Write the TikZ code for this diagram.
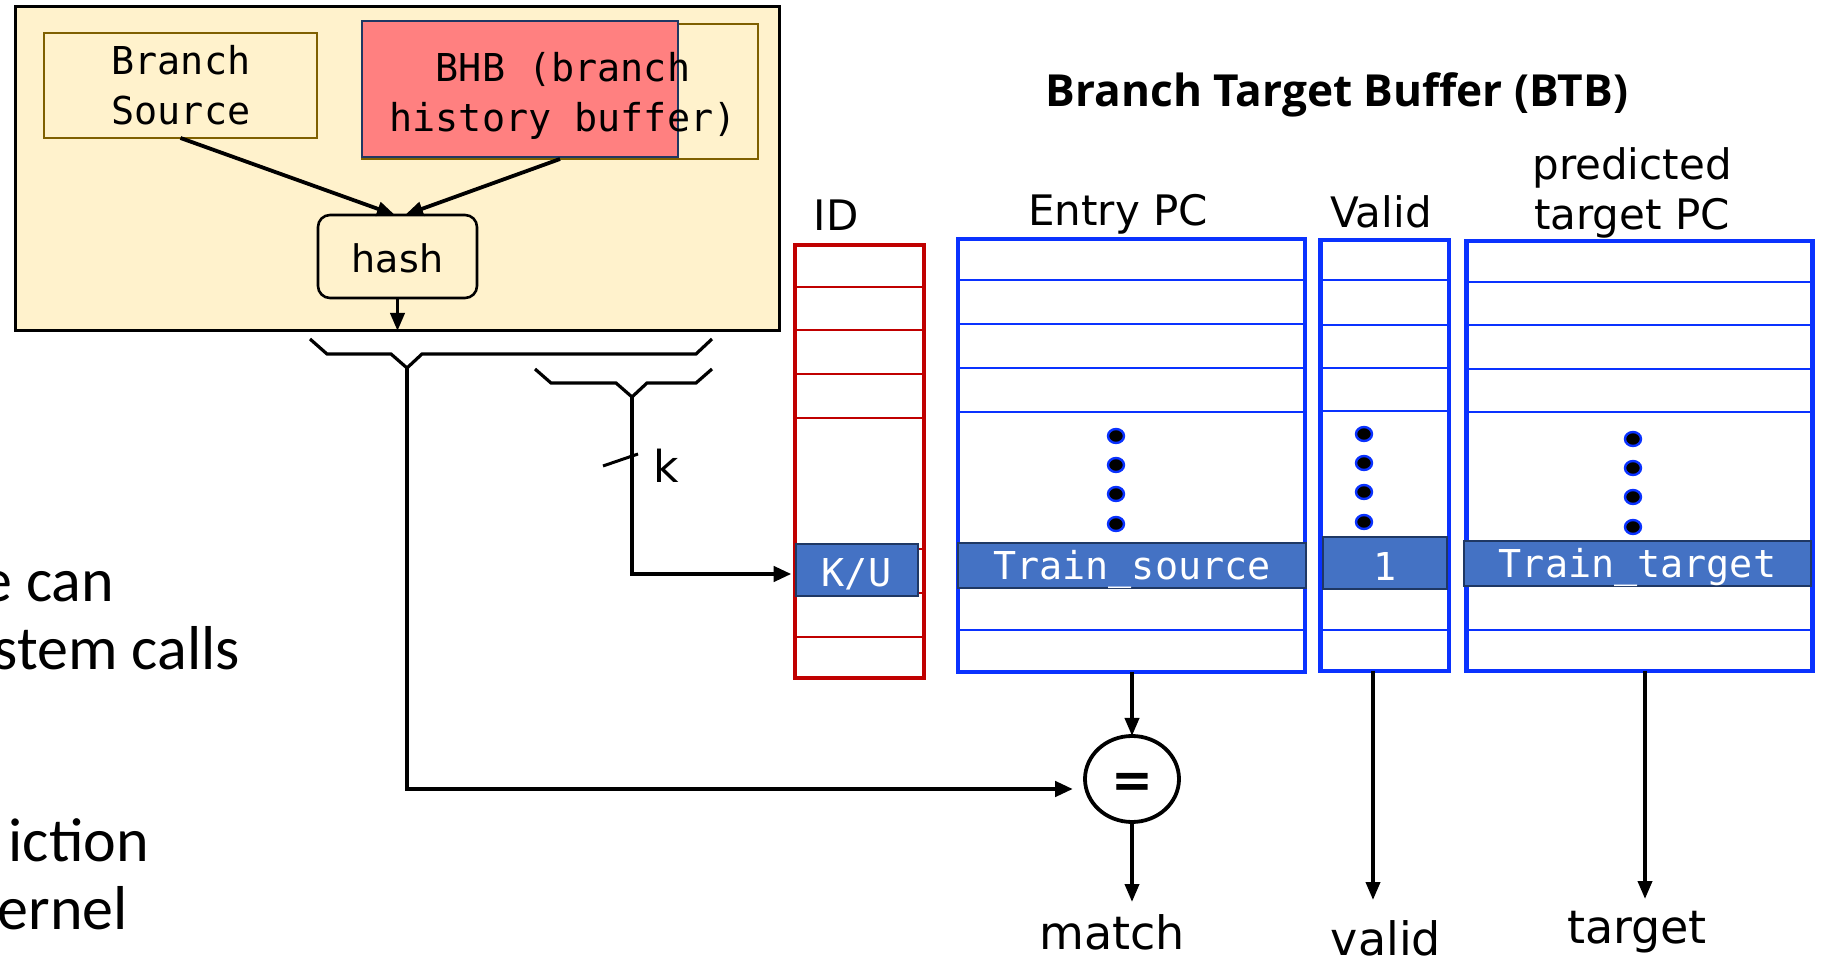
\documentclass[tikz,border=0pt]{standalone}
\usepackage{fontspec}
\setmainfont{DejaVu Sans}
\newfontfamily\monof{DejaVu Sans Mono}
\newfontfamily\titlef{Open Sans}
\newfontfamily\calf{Carlito}
\usetikzlibrary{arrows.meta,fit,shapes.geometric}
\definecolor{boxyellow}{RGB}{255,242,204}
\definecolor{boxbrown}{RGB}{127,96,0}
\definecolor{bhbred}{RGB}{255,128,128}
\definecolor{navy}{RGB}{31,56,100}
\definecolor{colblue}{RGB}{10,50,255}
\definecolor{cellblue}{RGB}{68,114,196}
\definecolor{idred}{RGB}{192,0,0}
\newcommand{\shiftdown}[2]{\raisebox{-#1}[\height][\depth]{#2}}
\tikzset{
  every node/.style={inner sep=0pt,outer sep=0pt},
  conn/.style={line width=1.9pt,-{Triangle[length=9pt,width=7pt]}},
  thickconn/.style={line width=2.3pt,-{Triangle[length=9pt,width=7.5pt]}},
  monotext/.style={font=\monof\fontsize{19.2}{25}\selectfont},
  labeltext/.style={font=\fontsize{21}{25}\selectfont},
  outlabel/.style={font=\fontsize{23}{27}\selectfont},
  sidetext/.style={font=\calf\fontsize{31}{37}\selectfont},
  colframe/.style={draw=colblue,line width=2.4pt},
  rowline/.style={colblue,line width=1.2pt},
  idrow/.style={idred,line width=1.2pt},
  cellbox/.style={fill=cellblue,draw=navy,line width=1pt,text=white,monotext},
  vdot/.style={fill=black,draw=colblue,line width=1.2pt},
  bracket/.style={line width=1.6pt,line join=miter},
}
\begin{document}
\begin{tikzpicture}[x=0.5pt,y=-0.5pt]
\useasboundingbox (0,0) rectangle (1821,956);
% cut-off side text
\node[sidetext,anchor=base east] (s1) at (114,602) {e can};
\node[sidetext,anchor=base east] (s2) at (240,669) {stem calls};
\node[sidetext,anchor=base east] (s3) at (149,861) {iction};
\node[sidetext,anchor=base east] (s4) at (128,929) {ernel};
% hash unit
\node[fit={(15,7)(779,331)},draw=black,line width=1.5pt,fill=boxyellow] (unit) {};
\node[fit={(44,33)(317,138)},draw=boxbrown,line width=1.3pt,fill=boxyellow] (src) {};
\node[monotext,align=center] (srctxt) at (181,85) {Branch\\Source};
\node[fit={(362,24)(758,159)},draw=boxbrown,line width=1.3pt,fill=boxyellow] (bhbframe) {};
\node[fit={(362,21)(678,157)},draw=navy,line width=1pt,fill=bhbred] (bhb) {};
\node[monotext,align=center] (bhbtxt) at (563,96) {BHB (branch\\history buffer)};
\node[draw=black,line width=1.3pt,rounded corners=6pt,fill=boxyellow,minimum width=79.5pt,minimum height=41.5pt,font=\fontsize{19}{22}\selectfont] (hash) at (397.5,256.5) {\shiftdown{1pt}{hash}};
\draw[conn] (src.south) -- ([xshift=-1.25pt]hash.north);
\draw[conn] (bhbframe.south) -- ([xshift=3.75pt]hash.north);
\draw[conn] (hash.south) -- (hash.south |- unit.south);
% brackets
\coordinate (v1) at (407,368);
\coordinate (v2) at (632,397);
\draw[bracket] (310,339) -- (327,354) -- (391,354) -- (v1) -- (422,354) -- (696,354) -- (712,339);
\draw[bracket] (535,369) -- (551,383) -- (616,383) -- (v2) -- (647,383) -- (696,383) -- (712,369);
\draw[line width=1.5pt] (603,466) -- (638,454);
\node[font=\fontsize{22}{26}\selectfont,anchor=base west] (k) at (653,483) {k};
% ID column
\foreach \y in {287,330,374,418,549,593,637} \draw[idrow] (795,\y) -- (924,\y);
\node[fit={(795,245)(924,678)},draw=idred,line width=2.1pt] (idcol) {};
\node[cellbox,minimum width=61pt,minimum height=26pt] (ku) at (856.5,570.5) {\shiftdown{1.75pt}{K/U}};
\node[labeltext,anchor=base] (idlbl) at (836,231) {ID};
% Entry PC column
\foreach \y in {280,324,368,412,630} \draw[rowline] (958,\y) -- (1305,\y);
\node[fit={(958,239)(1305,672)},colframe] (entry) {};
\foreach \y in {436,465,494,524} \filldraw[vdot] (1116,\y) ellipse [x radius=4pt,y radius=3.5pt];
\node[cellbox,minimum width=174pt,minimum height=22.5pt] (trsrc) at (1132,565.5) {\shiftdown{1.75pt}{Train\_source}};
\node[labeltext,anchor=base] (entrylbl) at (1118,226) {Entry PC};
% Valid column
\foreach \y in {280,325,368,411,630} \draw[rowline] (1320.5,\y) -- (1449,\y);
\node[fit={(1320.5,240)(1449,671)},colframe] (validcol) {};
\foreach \y in {434,463,492,522} \filldraw[vdot] (1364,\y) ellipse [x radius=4pt,y radius=3.5pt];
\node[cellbox,minimum width=62pt,minimum height=26pt] (one) at (1385,563) {\shiftdown{1.75pt}{1}};
\node[labeltext,anchor=base] (validlbl) at (1381,228) {Valid};
% predicted target column
\foreach \y in {282,325,369,412,630} \draw[rowline] (1466.5,\y) -- (1812.5,\y);
\node[fit={(1466.5,241)(1812.5,671)},colframe] (predcol) {};
\foreach \y in {439,468,497,527} \filldraw[vdot] (1633,\y) ellipse [x radius=4pt,y radius=3.5pt];
\node[cellbox,minimum width=173.5pt,minimum height=22.5pt] (trtgt) at (1637.5,563.5) {\shiftdown{1.75pt}{Train\_target}};
\node[labeltext,anchor=base] (predlbl1) at (1632,180) {predicted};
\node[labeltext,anchor=base] (predlbl2) at (1632,230) {target PC};
% title
\node[font=\titlef\bfseries\fontsize{22.1}{27}\selectfont,anchor=base] (title) at (1337,107) {Branch Target Buffer (BTB)};
% comparator
\node[draw,ellipse,line width=1.9pt,minimum width=47pt,minimum height=43pt,font=\bfseries\fontsize{25}{28}\selectfont] (eq) at (1132,779) {\shiftdown{3pt}{=}};
\draw[thickconn] (v1) |- ([xshift=-6pt,yshift=-5pt]eq.west);
\draw[thickconn] (v2) |- ([xshift=-2pt,yshift=-1.75pt]ku.west);
\draw[conn] (eq.north |- entry.south) -- (eq.north);
\coordinate (matchout) at (1134,902);
\coordinate (validout) at (1373,900);
\coordinate (targetout) at (1645,899);
\draw[conn] (eq.south) -- (eq.south |- matchout);
\draw[conn] (validout |- validcol.south) -- (validout);
\draw[conn] (targetout |- predcol.south) -- (targetout);
\node[outlabel,anchor=base] (match) at (1112,949) {match};
\node[outlabel,anchor=base] (valid) at (1386,955) {valid};
\node[outlabel,anchor=base] (target) at (1637,943) {target};
\end{tikzpicture}
\end{document}
